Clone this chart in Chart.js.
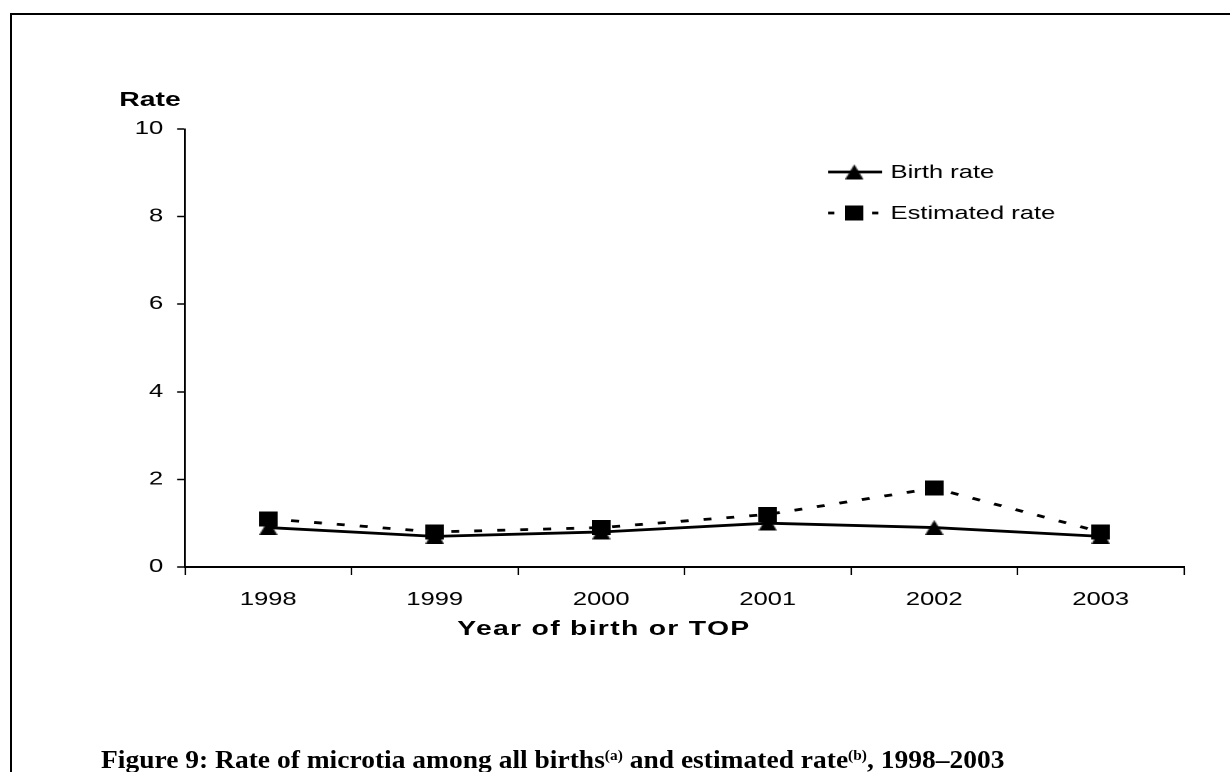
<!DOCTYPE html>
<html>
<head>
<meta charset="utf-8">
<script src="https://cdn.jsdelivr.net/npm/chart.js@4"></script>
<style>
  html, body { margin: 0; padding: 0; background: #fff; overflow: hidden; }
  #page { position: relative; width: 1230px; height: 772px; overflow: hidden; }
  #frame { position: absolute; left: 10px; top: 13px; width: 1300px; height: 900px; border: 2.5px solid #000; box-sizing: border-box; }
  /* the original figure is stretched sideways, so the whole plot is drawn narrow and widened */
  #plot { position: absolute; left: 0; top: 0; width: 867px; height: 772px; transform: scaleX(1.42); transform-origin: 0 0; }
  #plot canvas { position: absolute; left: 0; top: 0; }
  .lbl { position: absolute; font-family: 'Liberation Sans', Arial, sans-serif; font-weight: bold; color: #000; white-space: nowrap; }
  #caption { position: absolute; left: 101px; top: 747px; font-family: 'Liberation Serif', 'Times New Roman', serif; font-weight: bold; font-size: 25px; line-height: 25px; color: #000; white-space: nowrap; transform: scaleX(1.1); transform-origin: 0 0; }
  #caption sup { font-size: 14px; vertical-align: 8px; line-height: 0; }
</style>
</head>
<body>
<div id="page">
  <div id="frame"></div>
  <div id="plot">
    <canvas id="chart" width="867" height="772"></canvas>
    <div class="lbl" style="left:84px; top:89px; font-size:20px; line-height:20px;">Rate</div>
    <div class="lbl" style="left:322px; top:618px; font-size:20px; line-height:20px; letter-spacing:0.9px;">Year of birth or TOP</div>
  </div>
  <div id="caption">Figure 9: Rate of microtia among all births<sup>(a)</sup> and estimated rate<sup>(b)</sup>, 1998–2003</div>
</div>
<script>
// years on the x axis
const years = ['1998', '1999', '2000', '2001', '2002', '2003'];
// rates
const birthRate = [0.9, 0.7, 0.8, 1.0, 0.9, 0.7];
const estimatedRate = [1.1, 0.8, 0.9, 1.2, 1.8, 0.8];
const seriesNames = ['Birth rate', 'Estimated rate'];

const FONT = "'Liberation Sans', Arial, sans-serif";
const SX = 1.42; // horizontal stretch of the plot

// markers pre-squeezed so they come out at the right size after the stretch
function marker(kind, w, h) {
    const c = document.createElement('canvas');
    const cw = Math.round(w / SX);
    c.width = cw; c.height = h;
    const g = c.getContext('2d');
    g.fillStyle = '#000';
    g.beginPath();
    if (kind === 'tri') {
        g.moveTo(cw / 2, 0); g.lineTo(cw, h); g.lineTo(0, h);
    } else {
        g.rect(0, 0, cw, h);
    }
    g.closePath();
    g.fill();
    return c;
}
const triMark = marker('tri', 19, 15);
const sqMark = marker('sq', 18, 15);

// legend drawn inside the plot like the original
const legendInPlot = {
    id: 'legendInPlot',
    afterDraw(chart) {
        const ctx = chart.ctx;
        const x0 = 828 / SX, rows = [172, 213];
        chart.data.datasets.forEach(function(ds, i) {
            const y = rows[i];
            ctx.save();
            ctx.strokeStyle = '#000';
            ctx.lineWidth = 2.8;
            ctx.beginPath();
            if (i === 0) {
                ctx.moveTo(x0, y); ctx.lineTo(x0 + 38, y);
            } else {
                ctx.moveTo(x0, y); ctx.lineTo(x0 + 4.5, y);
                ctx.moveTo(x0 + 31, y); ctx.lineTo(x0 + 35.5, y);
            }
            ctx.stroke();
            const img = ds.pointStyle;
            ctx.drawImage(img, x0 + 18.5 - img.width / 2, y - img.height / 2);
            ctx.fillStyle = '#000';
            ctx.font = '18px ' + FONT;
            ctx.textBaseline = 'middle';
            ctx.fillText(ds.label, x0 + 44, y + 1);
            ctx.restore();
        });
    }
};

new Chart(document.getElementById('chart').getContext('2d'), {
    type: 'line',
    data: {
        labels: years,
        datasets: [
            {
                label: seriesNames[0],
                data: birthRate,
                borderColor: '#000',
                backgroundColor: '#000',
                borderWidth: 2.8,
                pointStyle: triMark,
                tension: 0
            },
            {
                label: seriesNames[1],
                data: estimatedRate,
                borderColor: '#000',
                backgroundColor: '#000',
                borderWidth: 2.8,
                borderDash: [5.6, 10.6],
                pointStyle: sqMark,
                tension: 0
            }
        ]
    },
    options: {
        responsive: false,
        animation: false,
        devicePixelRatio: 2,
        layout: { padding: { left: 0, top: 129, right: 33.2, bottom: 0 } },
        plugins: {
            legend: { display: false },
            tooltip: { enabled: false }
        },
        scales: {
            x: {
                offset: true,
                grid: { offset: true, drawOnChartArea: false, tickLength: 8, tickColor: '#000', tickWidth: 1.1 },
                border: { color: '#000', width: 2 },
                ticks: { color: '#000', font: { family: FONT, size: 18 }, padding: 14, maxRotation: 0 },
                afterFit(scale) { scale.height = 205; }
            },
            y: {
                min: 0,
                max: 10,
                grid: { drawOnChartArea: false, tickLength: 5.6, tickColor: '#000', tickWidth: 1.5 },
                border: { color: '#000', width: 1.4 },
                ticks: { stepSize: 2, color: '#000', font: { family: FONT, size: 18 }, padding: 9.8 },
                afterFit(scale) { scale.width = 185 / SX; }
            }
        }
    },
    plugins: [legendInPlot]
});
</script>
</body>
</html>
